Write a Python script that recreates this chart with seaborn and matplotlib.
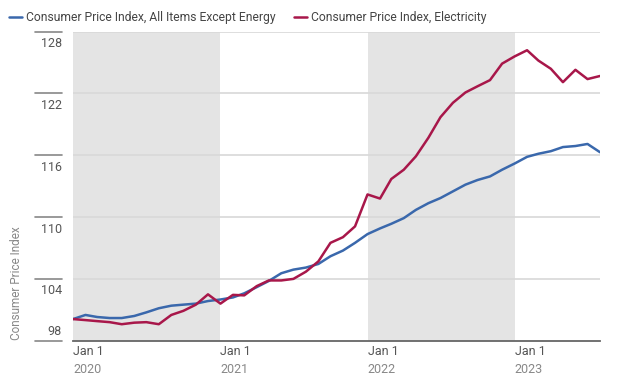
import pandas as pd
import matplotlib
matplotlib.use('Agg')
import matplotlib.pyplot as plt
import matplotlib.dates as mdates
import seaborn as sns

# monthly values, Jan 2020 - Aug 2023 (Jan 2020 = 100)
months = pd.date_range('2020-01-01', '2023-08-01', freq='MS')
core = [100.1, 100.5, 100.3, 100.2, 100.2, 100.4, 100.75, 101.15, 101.4, 101.5, 101.6, 101.85,
        102.0, 102.2, 102.6, 103.2, 103.8, 104.55, 104.9, 105.1, 105.45, 106.2, 106.75, 107.5,
        108.35, 108.9, 109.35, 109.9, 110.7, 111.35, 111.85, 112.5, 113.15, 113.6, 113.95, 114.6,
        115.2, 115.85, 116.15, 116.4, 116.8, 116.9, 117.1, 116.3]
electricity = [100.1, 100.0, 99.9, 99.8, 99.6, 99.75, 99.8, 99.6, 100.5, 100.9, 101.5, 102.5,
               101.6, 102.45, 102.4, 103.3, 103.85, 103.85, 104.0, 104.7, 105.7, 107.5, 108.05, 109.1,
               112.2, 111.8, 113.7, 114.6, 115.9, 117.7, 119.7, 121.1, 122.1, 122.7, 123.3, 124.9,
               125.6, 126.2, 125.2, 124.4, 123.1, 124.3, 123.4, 123.7]
series_names = ['Consumer Price Index, All Items Except Energy', 'Consumer Price Index, Electricity']
colors = ['#3a68ac', '#a8174a']
yticks = [98, 104, 110, 116, 122, 128]
years = [2020, 2021, 2022, 2023]
shaded = [(2020, 2021), (2022, 2023)]

df = pd.concat([
    pd.DataFrame({'date': months, 'value': core, 'series': series_names[0]}),
    pd.DataFrame({'date': months, 'value': electricity, 'series': series_names[1]}),
])

sns.set_style('white')
plt.rcParams['font.family'] = ['Roboto', 'DejaVu Sans']

fig = plt.figure(figsize=(6.4, 3.78), dpi=100)
ax = fig.add_axes([73 / 640, 1 - 340.7 / 378, 527 / 640, (340.7 - 31.7) / 378])

for a, b in shaded:
    ax.axvspan(pd.Timestamp(f'{a}-01-01'), pd.Timestamp(f'{b}-01-01'), color='#e4e4e4', lw=0, zorder=0)

for v in yticks[1:]:
    ax.axhline(v, color='#d8d8d8', lw=1.2, zorder=1)

sns.lineplot(data=df, x='date', y='value', hue='series', palette=colors, lw=1.8, ax=ax, zorder=3)

ax.set_xlim(months[0], months[-1])
ax.set_ylim(98, 128)
for s in ['top', 'right', 'left']:
    ax.spines[s].set_visible(False)
ax.spines['bottom'].set_color('#666666')
ax.spines['bottom'].set_linewidth(1.3)
ax.set_xticks([])
ax.set_yticks([])
ax.set_xlabel('')
ax.set_ylabel('')

# y labels sit under short tick lines in the left margin (the bottom one above the axis)
ytr = ax.get_yaxis_transform()
for v in yticks:
    ax.plot([-0.072, -0.021], [v, v], transform=ytr, color='#888888', lw=1.2, clip_on=False)
    if v == yticks[0]:
        ax.annotate(str(v), xy=(-0.021, v), xycoords=ytr, xytext=(0, 2), textcoords='offset points',
                    ha='right', va='bottom', fontsize=9, color='#555555')
    else:
        ax.annotate(str(v), xy=(-0.021, v), xycoords=ytr, xytext=(0, -4), textcoords='offset points',
                    ha='right', va='top', fontsize=9, color='#555555')

xtr = ax.get_xaxis_transform()
for yr in years:
    d = mdates.date2num(pd.Timestamp(f'{yr}-01-01'))
    ax.annotate('Jan 1', xy=(d, 0), xycoords=xtr, xytext=(0, -3), textcoords='offset points',
                ha='left', va='top', fontsize=9, color='#555555')
    ax.annotate(str(yr), xy=(d, 0), xycoords=xtr, xytext=(0, -16), textcoords='offset points',
                ha='left', va='top', fontsize=9, color='#888888')

fig.text(17 / 640, 1 - 340 / 378, 'Consumer Price Index', rotation=90, ha='center', va='bottom',
         fontsize=8.5, color='#888888')

handles, labels = ax.get_legend_handles_labels()
ax.get_legend().remove()
fig.legend(handles, labels, loc='upper left', bbox_to_anchor=(-0.003, 1.0), ncol=2, frameon=False,
           fontsize=8.7, handlelength=1.1, handletextpad=0.3, columnspacing=1.5,
           labelcolor='#444444')

fig.savefig('out.png', dpi=100)
